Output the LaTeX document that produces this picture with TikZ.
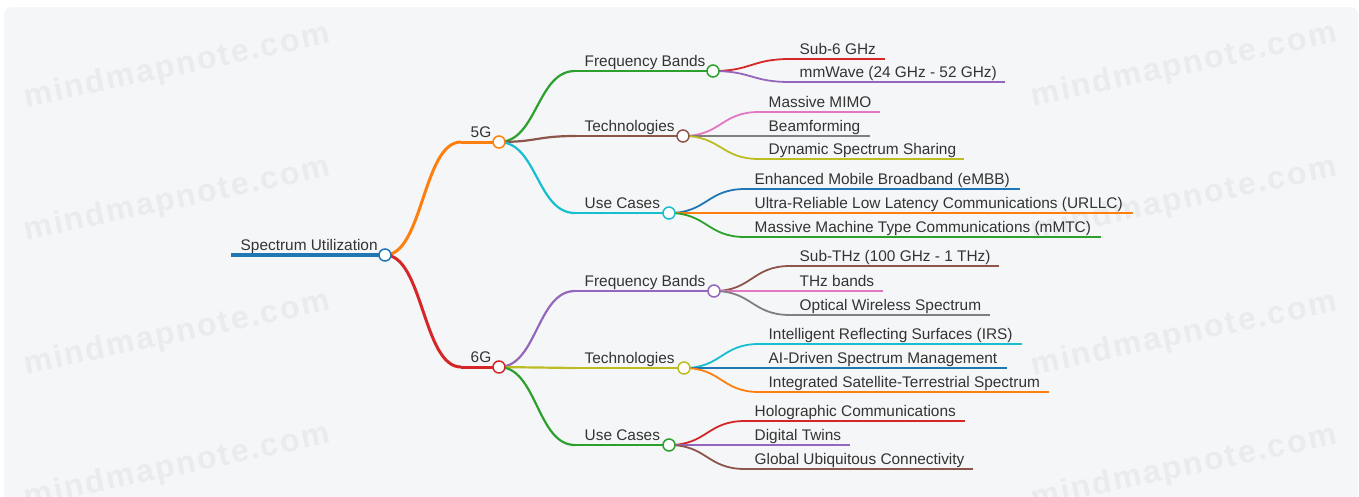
\documentclass[tikz,border=0pt]{standalone}
\usepackage{fontspec}
\setmainfont{Liberation Sans}
\newfontfamily\wmfont{Liberation Sans}[LetterSpace=6]
\usetikzlibrary{calc}
\definecolor{cBlue}{HTML}{1F77B4}
\definecolor{cOrange}{HTML}{FF7F0E}
\definecolor{cGreen}{HTML}{2CA02C}
\definecolor{cRed}{HTML}{D62728}
\definecolor{cPurple}{HTML}{9467BD}
\definecolor{cBrown}{HTML}{8C564B}
\definecolor{cPink}{HTML}{E377C2}
\definecolor{cGray}{HTML}{7F7F7F}
\definecolor{cOlive}{HTML}{BCBD22}
\definecolor{cCyan}{HTML}{17BECF}
\definecolor{txt}{HTML}{333333}
\definecolor{bgc}{HTML}{F5F6F8}
\definecolor{wmc}{HTML}{EAEBEE}
\tikzset{
  lbl/.style={anchor=base west, inner sep=0pt, text=txt, font=\fontsize{15.4}{18}\selectfont},
  dot/.style={circle, draw, fill=white, minimum size=12pt, inner sep=0pt, line width=1.5pt},
  wm/.style={text=wmc, font=\wmfont\bfseries\fontsize{32}{36}\selectfont, rotate=12, inner sep=0pt},
}
% #1 name, #2 colour, #3 width, #4 x start, #5 x end, #6 y, #7 text
\newcommand\mmtopic[7]{%
  \coordinate (#1s) at (#4,#6);
  \coordinate (#1e) at (#5,#6);
  \node[lbl] (#1) at (#4+9.5,#6-5) {#7};
  \draw[#2, line width=#3] (#1s) -- (#1e);
}
% #1 from, #2 to, #3 colour, #4 width
\newcommand\mmlink[4]{%
  \draw[#3, line width=#4] let \p1=(#1), \p2=(#2) in
    (\p1) .. controls ({0.5*\x1+0.5*\x2},\y1) and ({0.5*\x1+0.5*\x2},\y2) .. (\p2);
}
\begin{document}
\begin{tikzpicture}[x=1pt,y=-1pt]
\useasboundingbox (0,0) rectangle (1359,496);
\clip (0,0) rectangle (1359,496);
\fill[white] (0,0) rectangle (1359,496);
\fill[bgc, rounded corners=8pt] (4,7) rectangle (1358,530);
% watermarks
\node[wm] (w1) at (177,67) {mindmapnote.com};
\node[wm] (w2) at (177,200) {mindmapnote.com};
\node[wm] (w3) at (177,334) {mindmapnote.com};
\node[wm] (w4) at (177,467) {mindmapnote.com};
\node[wm] (w5) at (1184,66) {mindmapnote.com};
\node[wm] (w6) at (1184,200) {mindmapnote.com};
\node[wm] (w7) at (1184,335) {mindmapnote.com};
\node[wm] (w8) at (1184,468) {mindmapnote.com};
% root
\mmtopic{root}{cBlue}{4pt}{231}{385}{255}{Spectrum Utilization}
% level 1
\mmtopic{fiveg}{cOrange}{3pt}{461}{499}{142}{5G}
\mmtopic{sixg}{cRed}{3pt}{461}{499}{367}{6G}
\mmlink{roote}{fivegs}{cOrange}{3pt}
\mmlink{roote}{sixgs}{cRed}{3pt}
% level 2 (5G)
\mmtopic{afb}{cGreen}{2.2pt}{575}{713}{71}{Frequency Bands}
\mmtopic{ate}{cBrown}{2.2pt}{575}{683}{136}{Technologies}
\mmtopic{auc}{cCyan}{2.2pt}{575}{669}{213}{Use Cases}
\mmlink{fivege}{afbs}{cGreen}{2.2pt}
\mmlink{fivege}{ates}{cBrown}{2.2pt}
\mmlink{fivege}{aucs}{cCyan}{2.2pt}
% level 2 (6G)
\mmtopic{bfb}{cPurple}{2.2pt}{575}{714}{291}{Frequency Bands}
\mmtopic{bte}{cOlive}{2.2pt}{575}{684}{368}{Technologies}
\mmtopic{buc}{cGreen}{2.2pt}{575}{669}{445}{Use Cases}
\mmlink{sixge}{bfbs}{cPurple}{2.2pt}
\mmlink{sixge}{btes}{cOlive}{2.2pt}
\mmlink{sixge}{bucs}{cGreen}{2.2pt}
% leaves 5G frequency bands
\mmtopic{afb1}{cRed}{1.8pt}{790}{885}{59}{Sub-6 GHz}
\mmtopic{afb2}{cPurple}{1.8pt}{790}{1005}{82}{mmWave (24 GHz - 52 GHz)}
\mmlink{afbe}{afb1s}{cRed}{1.8pt}
\mmlink{afbe}{afb2s}{cPurple}{1.8pt}
% leaves 5G technologies
\mmtopic{ate1}{cPink}{1.8pt}{759}{880}{112}{Massive MIMO}
\mmtopic{ate2}{cGray}{1.8pt}{759}{870}{136}{Beamforming}
\mmtopic{ate3}{cOlive}{1.8pt}{759}{964}{159}{Dynamic Spectrum Sharing}
\mmlink{atee}{ate1s}{cPink}{1.8pt}
\mmlink{atee}{ate2s}{cGray}{1.8pt}
\mmlink{atee}{ate3s}{cOlive}{1.8pt}
% leaves 5G use cases
\mmtopic{auc1}{cBlue}{1.8pt}{745}{1020}{189}{Enhanced Mobile Broadband (eMBB)}
\mmtopic{auc2}{cOrange}{1.8pt}{745}{1133}{213}{Ultra-Reliable Low Latency Communications (URLLC)}
\mmtopic{auc3}{cGreen}{1.8pt}{745}{1101}{237}{Massive Machine Type Communications (mMTC)}
\mmlink{auce}{auc1s}{cBlue}{1.8pt}
\mmlink{auce}{auc2s}{cOrange}{1.8pt}
\mmlink{auce}{auc3s}{cGreen}{1.8pt}
% leaves 6G frequency bands
\mmtopic{bfb1}{cBrown}{1.8pt}{790}{999}{266}{Sub-THz (100 GHz - 1 THz)}
\mmtopic{bfb2}{cPink}{1.8pt}{790}{883}{291}{THz bands}
\mmtopic{bfb3}{cGray}{1.8pt}{790}{990}{315}{Optical Wireless Spectrum}
\mmlink{bfbe}{bfb1s}{cBrown}{1.8pt}
\mmlink{bfbe}{bfb2s}{cPink}{1.8pt}
\mmlink{bfbe}{bfb3s}{cGray}{1.8pt}
% leaves 6G technologies
\mmtopic{bte1}{cCyan}{1.8pt}{759}{1022}{344}{Intelligent Reflecting Surfaces (IRS)}
\mmtopic{bte2}{cBlue}{1.8pt}{759}{1007}{368}{AI-Driven Spectrum Management}
\mmtopic{bte3}{cOrange}{1.8pt}{759}{1049}{392}{Integrated Satellite-Terrestrial Spectrum}
\mmlink{btee}{bte1s}{cCyan}{1.8pt}
\mmlink{btee}{bte2s}{cBlue}{1.8pt}
\mmlink{btee}{bte3s}{cOrange}{1.8pt}
% leaves 6G use cases
\mmtopic{buc1}{cRed}{1.8pt}{745}{965}{421}{Holographic Communications}
\mmtopic{buc2}{cPurple}{1.8pt}{745}{850}{445}{Digital Twins}
\mmtopic{buc3}{cBrown}{1.8pt}{745}{973}{469}{Global Ubiquitous Connectivity}
\mmlink{buce}{buc1s}{cRed}{1.8pt}
\mmlink{buce}{buc2s}{cPurple}{1.8pt}
\mmlink{buce}{buc3s}{cBrown}{1.8pt}
% dots
\node[dot, draw=cBlue] (droot) at (roote) {};
\node[dot, draw=cOrange] (dfiveg) at (fivege) {};
\node[dot, draw=cRed] (dsixg) at (sixge) {};
\node[dot, draw=cGreen] (dafb) at (afbe) {};
\node[dot, draw=cBrown] (date) at (atee) {};
\node[dot, draw=cCyan] (dauc) at (auce) {};
\node[dot, draw=cPurple] (dbfb) at (bfbe) {};
\node[dot, draw=cOlive] (dbte) at (btee) {};
\node[dot, draw=cGreen] (dbuc) at (buce) {};
\end{tikzpicture}
\end{document}
